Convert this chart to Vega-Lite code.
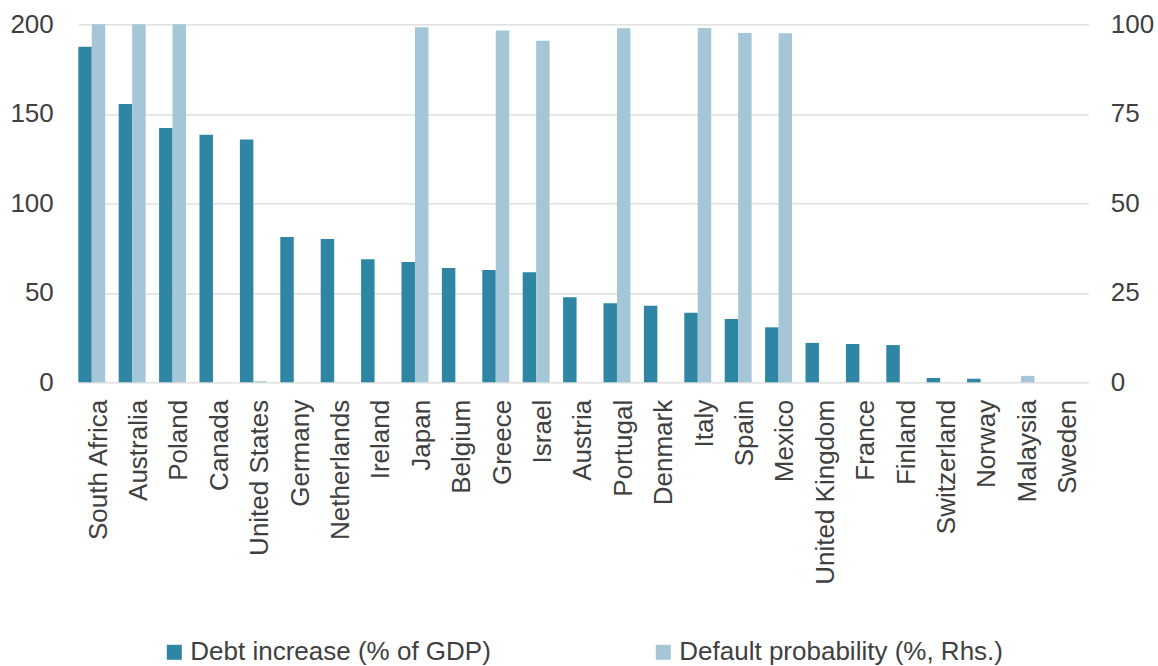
{
  "$schema": "https://vega.github.io/schema/vega-lite/v6.json",
  "width": 1010,
  "height": 358,
  "autosize": {"type": "none"},
  "padding": {"left": 78.3, "top": 24.3, "right": 69.7, "bottom": 283.7},
  "background": "white",
  "config": {
    "font": "Liberation Sans",
    "view": {"stroke": null},
    "axis": {"labelFont": "Liberation Sans", "labelFontSize": 26, "labelColor": "#404040", "domain": false, "ticks": false, "tickSize": 0, "title": null},
    "legend": {"labelFont": "Liberation Sans", "labelFontSize": 26, "labelColor": "#404040", "labelLimit": 500}
  },
  "data": {
    "values": [
      {"country": "South Africa", "debt": 187.5, "prob": 100},
      {"country": "Australia", "debt": 155.5, "prob": 100},
      {"country": "Poland", "debt": 142, "prob": 100},
      {"country": "Canada", "debt": 138.3, "prob": 0},
      {"country": "United States", "debt": 135.7, "prob": 0.3},
      {"country": "Germany", "debt": 81.2, "prob": 0},
      {"country": "Netherlands", "debt": 80, "prob": 0},
      {"country": "Ireland", "debt": 68.7, "prob": 0},
      {"country": "Japan", "debt": 67.2, "prob": 99.2},
      {"country": "Belgium", "debt": 63.9, "prob": 0},
      {"country": "Greece", "debt": 62.7, "prob": 98.3},
      {"country": "Israel", "debt": 61.5, "prob": 95.4},
      {"country": "Austria", "debt": 47.5, "prob": 0},
      {"country": "Portugal", "debt": 44.1, "prob": 98.9},
      {"country": "Denmark", "debt": 42.8, "prob": 0},
      {"country": "Italy", "debt": 38.9, "prob": 99.0},
      {"country": "Spain", "debt": 35.4, "prob": 97.6},
      {"country": "Mexico", "debt": 30.7, "prob": 97.5},
      {"country": "United Kingdom", "debt": 22.0, "prob": 0},
      {"country": "France", "debt": 21.4, "prob": 0},
      {"country": "Finland", "debt": 20.8, "prob": 0},
      {"country": "Switzerland", "debt": 2.4, "prob": 0},
      {"country": "Norway", "debt": 2.0, "prob": 0},
      {"country": "Malaysia", "debt": 0, "prob": 1.8},
      {"country": "Sweden", "debt": 0, "prob": 0}
    ]
  },
  "encoding": {
    "x": {
      "field": "country",
      "type": "nominal",
      "sort": null,
      "scale": {"paddingInner": 0, "paddingOuter": 0},
      "axis": {"labelAngle": -90, "labelPadding": 17, "labelLimit": 400, "grid": false}
    },
    "xOffset": {"datum": "debt", "scale": {"domain": ["debt", "prob", "pad"], "paddingInner": 0, "paddingOuter": 0}}
  },
  "layer": [
    {
      "mark": {"type": "bar"},
      "encoding": {
        "y": {
          "field": "debt",
          "type": "quantitative",
          "scale": {"domain": [0, 200]},
          "axis": {"values": [0, 50, 100, 150, 200], "grid": true, "gridColor": "#d9d9d9", "gridWidth": 1.3, "labelPadding": 25, "orient": "left"}
        },
        "xOffset": {"datum": "debt"},
        "color": {
          "datum": "Debt increase (% of GDP)",
          "scale": {"domain": ["Debt increase (% of GDP)", "Default probability (%, Rhs.)"], "range": ["#2e86a4", "#a4c6d7"]},
          "legend": {
            "orient": "none",
            "direction": "horizontal",
            "legendX": 83,
            "legendY": 615,
            "title": null,
            "symbolType": "square",
            "symbolSize": 225,
            "symbolStrokeWidth": 0,
            "labelFontSize": 26,
            "labelLimit": 500,
            "labelOffset": 3,
            "columnPadding": 159
          }
        }
      }
    },
    {
      "mark": {"type": "bar"},
      "encoding": {
        "y": {
          "field": "prob",
          "type": "quantitative",
          "scale": {"domain": [0, 100]},
          "axis": {"values": [0, 25, 50, 75, 100], "grid": false, "labelPadding": 22, "orient": "right"}
        },
        "xOffset": {"datum": "prob"},
        "color": {"datum": "Default probability (%, Rhs.)"}
      }
    }
  ],
  "resolve": {"scale": {"y": "independent"}}
}
